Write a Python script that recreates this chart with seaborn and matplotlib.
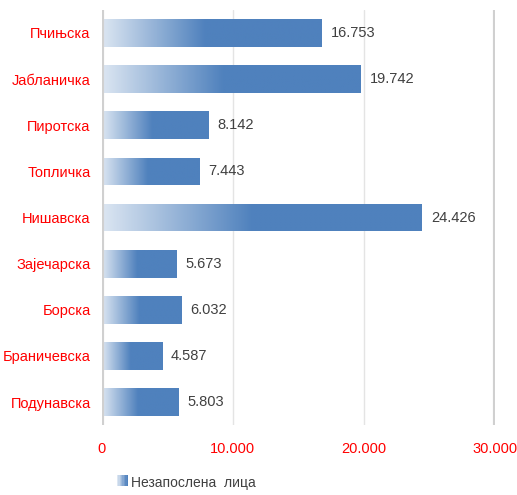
import matplotlib
matplotlib.use("Agg")
import matplotlib.pyplot as plt
import numpy as np
import pandas as pd
import seaborn as sns
from matplotlib.colors import LinearSegmentedColormap
from matplotlib.legend_handler import HandlerBase
from matplotlib.patches import Rectangle

districts = ["Пчињска", "Јабланичка", "Пиротска", "Топличка", "Нишавска",
             "Зајечарска", "Борска", "Браничевска", "Подунавска"]
unemployed = [16753, 19742, 8142, 7443, 24426, 5673, 6032, 4587, 5803]
xticks = [0, 10000, 20000, 30000]
series_name = "Незапослена  лица"

df = pd.DataFrame({"district": districts, "value": unemployed})

sns.set_style("white")
plt.rcParams["font.family"] = ["Liberation Sans", "DejaVu Sans"]

light = "#dce6f2"
solid = "#4f81bd"
cmap = LinearSegmentedColormap.from_list("grad", [(0, light), (0.47, solid), (1, solid)])

fig = plt.figure(figsize=(5.17, 4.95), dpi=100)
ax = fig.add_axes([0.197, 0.141, 0.76, 0.839])

sns.barplot(data=df, y="district", x="value", orient="h", color=solid,
            width=0.6, ax=ax, zorder=2)

grad = np.linspace(0, 1, 256).reshape(1, -1)
for p in ax.patches:
    x0, y0 = p.get_x(), p.get_y()
    w, h = p.get_width(), p.get_height()
    p.set_facecolor("none")
    p.set_edgecolor("none")
    im = ax.imshow(grad, cmap=cmap, aspect="auto", extent=[x0, x0 + w, y0 + h, y0],
                   zorder=2, interpolation="bilinear")
    im.set_clip_path(p)
    ax.text(x0 + w + 700, y0 + h / 2, "{:,}".format(int(w)).replace(",", "."),
            va="center", ha="left", fontsize=10.5, color="#404040")

ax.set_xlim(0, 30000)
ax.set_ylim(8.5, -0.5)
ax.set_xticks(xticks)
ax.set_xticklabels(["{:,}".format(v).replace(",", ".") for v in xticks],
                   color="red", fontsize=10.5)
ax.tick_params(axis="x", length=0, pad=12)
ax.tick_params(axis="y", length=0, pad=8, labelcolor="red", labelsize=10.5)
ax.set_xlabel("")
ax.set_ylabel("")

for v in [10000, 20000]:
    ax.axvline(v, color="#e4e4e4", linewidth=1, zorder=1)
ax.axvline(0, color="#d0d0d0", linewidth=3, zorder=3)
ax.axvline(30000, color="#d0d0d0", linewidth=3, zorder=3)
sns.despine(ax=ax, top=True, right=True, left=True, bottom=True)


class GradientHandler(HandlerBase):
    def create_artists(self, legend, orig_handle, xdescent, ydescent,
                       width, height, fontsize, trans):
        n = 8
        arts = []
        for i in range(n):
            arts.append(Rectangle((xdescent + i * width / n, ydescent), width / n, height,
                                  facecolor=cmap(i / (n - 1) * 0.5), edgecolor="none",
                                  transform=trans))
        return arts


handle = Rectangle((0, 0), 1, 1)
fig.legend([handle], [series_name], handler_map={Rectangle: GradientHandler()},
           loc="center", bbox_to_anchor=(0.36, 0.024), frameon=False,
           fontsize=10, handlelength=0.8, handleheight=0.9, handletextpad=0.2,
           labelcolor="#404040")

fig.savefig("out.png", dpi=100)
